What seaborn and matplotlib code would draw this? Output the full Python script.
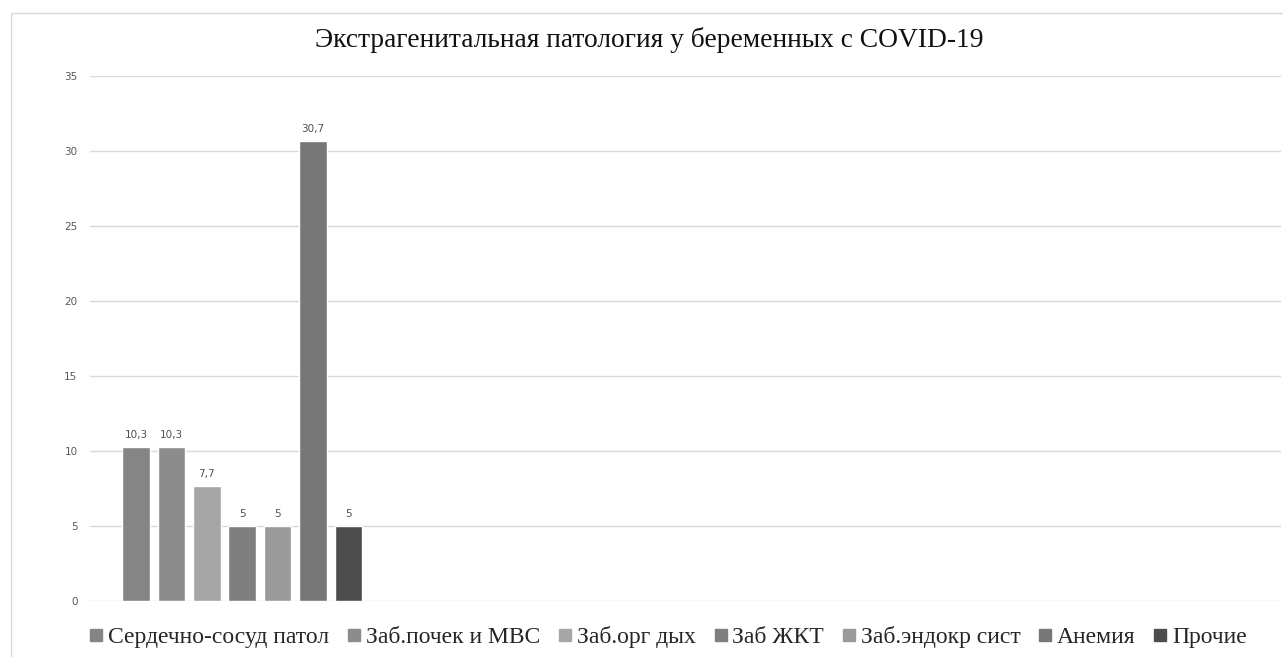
import matplotlib
matplotlib.use("Agg")
import matplotlib.pyplot as plt
import seaborn as sns
from matplotlib.lines import Line2D
from matplotlib.patches import Rectangle

categories = [
    "Сердечно-сосуд патол",
    "Заб.почек и МВС",
    "Заб.орг дых",
    "Заб ЖКТ",
    "Заб.эндокр сист",
    "Анемия",
    "Прочие",
]
values = [10.3, 10.3, 7.7, 5, 5, 30.7, 5]
colors = ["#858585", "#8c8c8c", "#a6a6a6", "#7f7f7f", "#9a9a9a", "#777777", "#4d4d4d"]
yticks = [0, 5, 10, 15, 20, 25, 30, 35]

sns.set_style("white")
fig = plt.figure(figsize=(12.83, 6.57), dpi=100)
ax = fig.add_axes([90 / 1283, 1 - 601 / 657, 1191 / 1283, (601 - 76) / 657])

sns.barplot(
    x=categories, y=values, hue=categories, palette=colors,
    width=0.78, legend=False, saturation=1, ax=ax, zorder=3,
)

ax.set_xlim(-1.3, 32.35)
ax.set_ylim(0, 35)
ax.set_yticks(yticks)
ax.set_xticks([])
ax.grid(axis="y", color="#d9d9d9", linewidth=1, zorder=0)
ax.tick_params(axis="y", length=0, pad=9, labelsize=7.5, labelcolor="#595959")
for s in ax.spines.values():
    s.set_visible(False)
ax.set_xlabel("")
ax.set_ylabel("")

for i, v in enumerate(values):
    ax.annotate(
        f"{v:g}".replace(".", ","), (i, v), xytext=(0, 5), textcoords="offset points",
        ha="center", va="bottom", fontsize=7.5, color="#505050",
    )

fig.text(649 / 1283, 1 - 40 / 657, "Экстрагенитальная патология у беременных с COVID-19",
         ha="center", va="center", fontsize=19.8, family="Liberation Serif", color="#111111")

handles = [Line2D([], [], marker="s", linestyle="", markersize=8, color=c) for c in colors]
fig.legend(
    handles, categories, loc="center", bbox_to_anchor=(667 / 1283, 1 - 637 / 657),
    ncol=7, frameon=False, handletextpad=0.1, columnspacing=0.65, handlelength=0.8,
    prop={"family": "Liberation Serif", "size": 17},
)

fig.add_artist(Rectangle((11 / 1283, -0.05), 1.2, 1 - 13 / 657 + 0.05,
                         transform=fig.transFigure, fill=False, edgecolor="#d9d9d9", linewidth=1))

fig.savefig("out.png", dpi=100)
